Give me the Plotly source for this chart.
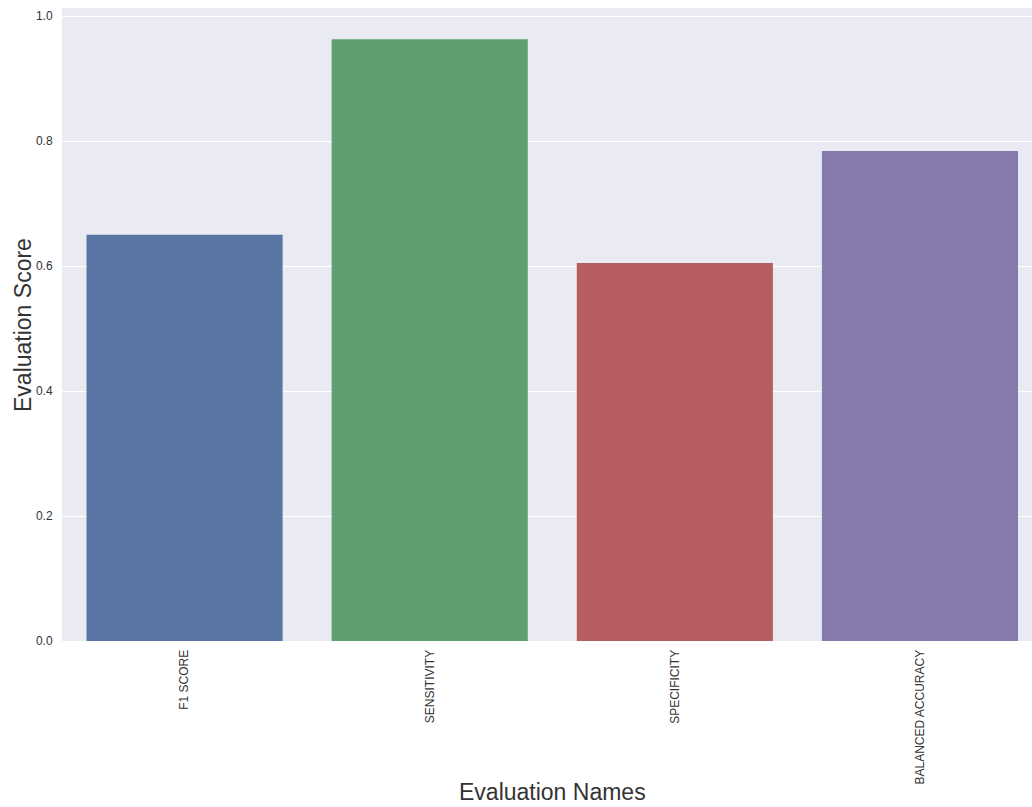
import plotly.graph_objects as go

categories = ["F1 SCORE", "SENSITIVITY", "SPECIFICITY", "BALANCED ACCURACY"]
scores = [0.650, 0.963, 0.605, 0.784]
bar_colors = ["#5975a4", "#5f9e6e", "#b55d60", "#857aab"]
y_ticks = [0.0, 0.2, 0.4, 0.6, 0.8, 1.0]

fig = go.Figure(go.Bar(
    x=list(range(len(categories))), y=scores,
    marker=dict(color=bar_colors, line=dict(width=0)),
    width=0.8,
))

font_family = "Liberation Sans, Arial, sans-serif"
fig.update_layout(
    width=1032, height=807,
    margin=dict(l=62, r=0, t=8, b=166),
    plot_bgcolor="#EAEAF2", paper_bgcolor="white",
    font=dict(family=font_family, color="#333333"),
    showlegend=False,
    bargap=0.2,
)
fig.add_annotation(
    text="Evaluation Names", xref="paper", yref="paper",
    x=(552 - 62) / 970, y=-(792 - 641) / 633,
    xanchor="center", yanchor="middle", showarrow=False,
    font=dict(size=23, color="#333333"),
)
fig.add_annotation(
    text="Evaluation Score", xref="paper", yref="paper",
    x=(23 - 62) / 970, y=(641 - 325) / 633,
    xanchor="center", yanchor="middle", showarrow=False, textangle=-90,
    font=dict(size=23, color="#333333"),
)
fig.update_xaxes(
    range=[-0.5, 3.457], automargin=False,
    tickmode="array", tickvals=list(range(len(categories))), ticktext=categories,
    tickangle=-90, tickfont=dict(size=12, color="#333333"),
    showgrid=False, zeroline=False, ticks="outside", ticklen=3, tickcolor="rgba(0,0,0,0)",
)
fig.update_yaxes(
    range=[0, 1.013], automargin=False,
    tickmode="array", tickvals=y_ticks, ticktext=[f"{v:.1f}" for v in y_ticks],
    tickfont=dict(size=12, color="#333333"),
    showgrid=True, gridcolor="white", gridwidth=1.2, zeroline=False,
    ticks="outside", ticklen=6, tickcolor="rgba(0,0,0,0)",
)
fig.write_html("out.html", config={"displayModeBar": False},
               post_script="document.body.style.margin='0';document.body.style.overflow='hidden';")
